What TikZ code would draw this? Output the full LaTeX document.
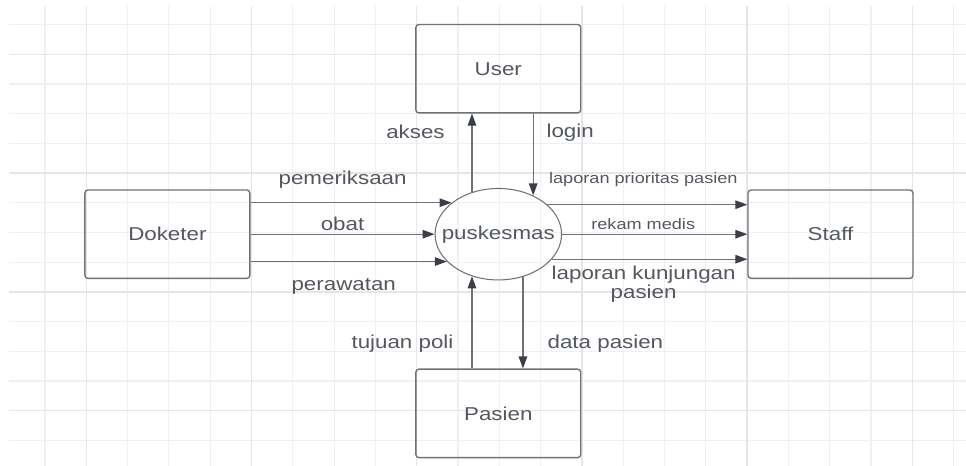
\documentclass[tikz,border=0pt]{standalone}
\usepackage{fontspec}
\setmainfont{Liberation Sans}[FakeStretch=1.2]
\usetikzlibrary{shapes.geometric,arrows.meta,positioning}

\definecolor{gridminor}{HTML}{F0F0F0}
\definecolor{gridmajor}{HTML}{E6E6E6}
\definecolor{edgegray}{HTML}{6E7279}
\definecolor{tipgray}{HTML}{3A3F47}
\definecolor{textgray}{HTML}{53575E}

\begin{document}
\begin{tikzpicture}[
    x=0.02cm, y=-0.02cm,
    entity/.style={rectangle, draw=edgegray, line width=0.8pt, rounded corners=1.8pt, minimum width=3.3cm, minimum height=1.77cm, align=center, text=textgray, font=\fontsize{10.6}{11}\selectfont},
    process/.style={ellipse, draw=edgegray, line width=0.6pt, minimum width=2.53cm, minimum height=1.83cm, inner sep=0pt, text=textgray, font=\fontsize{10.6}{11}\selectfont},
    flow/.style={draw=edgegray, line width=0.7pt, -{Triangle[length=0.24cm, width=0.17cm, color=tipgray]}},
    lbl/.style={inner sep=0pt, align=center, text=textgray, font=\fontsize{10.6}{10.8}\selectfont},
    smalllbl/.style={lbl, font=\fontsize{8.6}{10}\selectfont},
    gridline/.style={draw=gridminor, line width=0.6pt},
    gridbold/.style={draw=gridmajor, line width=0.9pt}
]
\useasboundingbox (0,0) rectangle (966,466);

% Grid
\foreach \i in {0,...,22} \draw[gridline] ({45+41.3*\i},6) -- ({45+41.3*\i},466);
\foreach \j in {-1,...,13} \draw[gridline] (9,{54.3+29.7*\j}) -- (966,{54.3+29.7*\j});
\foreach \i in {1,5,...,21} \draw[gridbold] ({45+41.3*\i},6) -- ({45+41.3*\i},466);
\foreach \j in {0,4,...,12} \draw[gridbold] (9,{54.3+29.7*\j}) -- (966,{54.3+29.7*\j});

% Process
\node[process] (puskesmas) at (498.3,234.2) {\makebox[0pt]{puskesmas}};

% External entities
\node[entity, above=1.486cm of puskesmas] (user) {User};
\node[entity, left=3.68cm of puskesmas] (doketer) {Doketer};
\node[entity, right=3.706cm of puskesmas] (staff) {Staff};
\node[entity, below=1.76cm of puskesmas] (pasien) {Pasien};

% Flows with User
\draw[flow] (puskesmas.122) -- node[lbl, xshift=-1.13cm, yshift=0.43cm] (lakses) {akses} (puskesmas.122 |- user.south);
\draw[flow] (puskesmas.48 |- user.south) -- node[lbl, xshift=0.74cm, yshift=0.43cm] (llogin) {login} (puskesmas.48);

% Flows from Doketer
\draw[flow] (puskesmas.146 -| doketer.east) -- node[lbl, xshift=-0.17cm, yshift=0.46cm] (lperiksa) {pemeriksaan} (puskesmas.146);
\draw[flow] (doketer) -- node[lbl, yshift=0.2cm] (lobat) {obat} (puskesmas);
\draw[flow] (puskesmas.208 -| doketer.east) -- node[lbl, xshift=-0.1cm, yshift=-0.49cm] (lrawat) {perawatan} (puskesmas.208);

% Flows to Staff
\draw[flow] (puskesmas.31) -- node[smalllbl, xshift=-0.08cm, yshift=0.5cm] (lprioritas) {laporan prioritas pasien} (puskesmas.31 -| staff.west);
\draw[flow] (puskesmas) -- node[smalllbl, xshift=-0.23cm, yshift=0.21cm] (lrekam) {rekam medis} (staff);
\draw[flow] (puskesmas.335) -- node[lbl, xshift=-0.12cm, yshift=-0.5cm] (lkunjungan) {laporan kunjungan\\pasien} (puskesmas.335 -| staff.west);

% Flows with Pasien
\draw[flow] (puskesmas.238 |- pasien.north) -- node[lbl, xshift=-1.39cm, yshift=-0.43cm] (ltujuan) {tujuan poli} (puskesmas.238);
\draw[flow] (puskesmas.300) -- node[lbl, xshift=1.65cm, yshift=-0.43cm] (ldata) {data pasien} (puskesmas.300 |- pasien.north);

\end{tikzpicture}
\end{document}
